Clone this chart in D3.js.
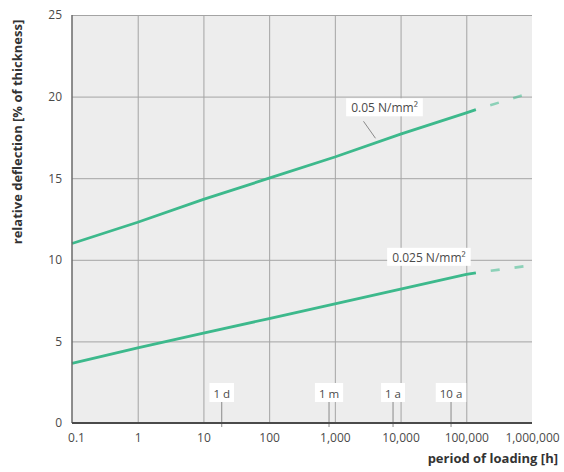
<!DOCTYPE html>
<html>
<head>
<meta charset="utf-8">
<script src="https://cdn.jsdelivr.net/npm/d3@7"></script>
<style>
  html, body { margin: 0; padding: 0; background: #ffffff; }
  svg { display: block; font-family: "Open Sans", "Noto Sans", sans-serif; }
</style>
</head>
<body>
<svg id="chart" width="564" height="472"></svg>
<script>
// ---- data ----
const xTicks = [0.1, 1, 10, 100, 1000, 10000, 100000, 1000000];
const xTickLabels = ["0.1", "1", "10", "100", "1,000", "10,000", "100,000", "1,000,000"];
const yTicks = [0, 5, 10, 15, 20, 25];
const hours = [0.1, 1, 10, 100, 1000, 10000, 100000, 140000];
const load005 = [11.0, 12.3, 13.7, 15.0, 16.3, 17.7, 19.0, 19.2];
const load0025 = [3.65, 4.6, 5.5, 6.4, 7.3, 8.2, 9.1, 9.2];
const extHours = [140000, 750000];
const ext005 = [19.2, 20.1];
const ext0025 = [9.2, 9.6];
const seriesLabels = ["0.05 N/mm²", "0.025 N/mm²"];
const durationLabels = ["1 d", "1 m", "1 a", "10 a"];
const durationHours = [19, 815, 7680, 58600];
const xTitle = "period of loading [h]";
const yTitle = "relative deflection [% of thickness]";

// ---- layout ----
const W = 564, H = 472;
const m = { left: 72, right: 32, top: 15, bottom: 49 };
const svg = d3.select("#chart");
const x = d3.scaleLog().domain([0.1, 1000000]).range([m.left, W - m.right]);
const y = d3.scaleLinear().domain([0, 25]).range([H - m.bottom, m.top]);
const green = "#3db98c";
const gridCol = "#a4a4a4";
const textCol = "#4a4a4a";

// plot background
svg.append("rect")
  .attr("x", x.range()[0]).attr("y", y.range()[1])
  .attr("width", x.range()[1] - x.range()[0])
  .attr("height", y.range()[0] - y.range()[1])
  .attr("fill", "#ededed");

// grid: vertical
const gx = svg.append("g")
  .attr("transform", `translate(0,${y.range()[0]})`)
  .call(d3.axisBottom(x).tickValues(xTicks.slice(1, -1))
    .tickSize(-(y.range()[0] - y.range()[1])).tickFormat(""));
gx.select(".domain").remove();
gx.selectAll("line").attr("stroke", gridCol).attr("stroke-width", 1);

// grid: horizontal
const gy = svg.append("g")
  .attr("transform", `translate(${x.range()[0]},0)`)
  .call(d3.axisLeft(y).tickValues(yTicks.slice(1))
    .tickSize(-(x.range()[1] - x.range()[0])).tickFormat(""));
gy.select(".domain").remove();
gy.selectAll("line").attr("stroke", gridCol).attr("stroke-width", 1);

// series lines
const line = d3.line().x(d => x(d[0])).y(d => y(d[1]));
const s1 = hours.map((h, i) => [h, load005[i]]);
const s2 = hours.map((h, i) => [h, load0025[i]]);
const e1 = extHours.map((h, i) => [h, ext005[i]]);
const e2 = extHours.map((h, i) => [h, ext0025[i]]);

[s1, s2].forEach(s => {
  svg.append("path").datum(s).attr("d", line)
    .attr("fill", "none").attr("stroke", green)
    .attr("stroke-width", 2.8).attr("stroke-linecap", "butt");
});
[e1, e2].forEach(s => {
  svg.append("path").datum(s).attr("d", line)
    .attr("fill", "none").attr("stroke", green).attr("stroke-opacity", 0.55)
    .attr("stroke-width", 2.6).attr("stroke-dasharray", "0 15 9 15 9 100");
});

// duration annotations along the bottom
const base = y.range()[0];
durationHours.forEach((h, i) => {
  const px = x(h);
  svg.append("line")
    .attr("x1", px).attr("x2", px).attr("y1", base - 21).attr("y2", base + 4)
    .attr("stroke", "#8a8a8a").attr("stroke-width", 1);
  const t = svg.append("text")
    .attr("x", px).attr("y", base - 25)
    .attr("text-anchor", "middle").attr("font-size", 11.5)
    .attr("fill", textCol).text(durationLabels[i]);
  const bb = t.node().getBBox();
  svg.insert("rect", () => t.node())
    .attr("x", bb.x - 4).attr("y", base - 40)
    .attr("width", bb.width + 8).attr("height", 19)
    .attr("fill", "#ffffff");
});

// axis lines
svg.append("line")
  .attr("x1", x.range()[0]).attr("x2", x.range()[0])
  .attr("y1", y.range()[1]).attr("y2", y.range()[0])
  .attr("stroke", "#6a6a6a").attr("stroke-width", 1.5);
svg.append("line")
  .attr("x1", x.range()[0]).attr("x2", x.range()[1])
  .attr("y1", y.range()[0]).attr("y2", y.range()[0])
  .attr("stroke", "#4a4a4a").attr("stroke-width", 2);

// x tick labels
const xl = svg.append("g")
  .attr("transform", `translate(0,${y.range()[0]})`)
  .call(d3.axisBottom(x).tickValues(xTicks).tickSize(0).tickPadding(10)
    .tickFormat((d, i) => xTickLabels[i]));
xl.select(".domain").remove();
xl.selectAll("text").attr("font-size", 12).attr("fill", textCol)
  .attr("font-family", "Open Sans, sans-serif");
xl.selectAll("text").filter((d, i) => i === 0).attr("dx", 4);

// y tick labels
const yl = svg.append("g")
  .attr("transform", `translate(${x.range()[0]},0)`)
  .call(d3.axisLeft(y).tickValues(yTicks).tickSize(0).tickPadding(10));
yl.select(".domain").remove();
yl.selectAll("text").attr("font-size", 12).attr("fill", textCol)
  .attr("font-family", "Open Sans, sans-serif");

// series labels
function seriesLabel(txt, anchorH, anchorV, dx, dy, leader) {
  const ax = x(anchorH), ay = y(anchorV);
  if (leader) {
    svg.append("line")
      .attr("x1", ax - 1).attr("y1", ay - 4)
      .attr("x2", ax - 13).attr("y2", ay - 21)
      .attr("stroke", "#8a8a8a").attr("stroke-width", 1);
  }
  const t = svg.append("text")
    .attr("x", ax + dx).attr("y", ay + dy)
    .attr("text-anchor", "middle").attr("font-size", 12)
    .attr("fill", textCol).text(txt);
  const bb = t.node().getBBox();
  svg.insert("rect", () => t.node())
    .attr("x", bb.x - 5).attr("y", ay + dy - 14)
    .attr("width", bb.width + 10).attr("height", 18)
    .attr("fill", "#ffffff");
}
seriesLabel(seriesLabels[0], 4300, 17.2, 8, -30, true);
seriesLabel(seriesLabels[1], 27000, 8.65, 0, -20, false);

// axis titles
svg.append("text")
  .attr("x", 558).attr("y", 463)
  .attr("text-anchor", "end").attr("font-size", 13).attr("font-weight", "bold")
  .attr("fill", "#333").text(xTitle);
svg.append("text")
  .attr("transform", "translate(22,132) rotate(-90)")
  .attr("text-anchor", "middle").attr("font-size", 13).attr("font-weight", "bold")
  .attr("fill", "#333").text(yTitle);
</script>
</body>
</html>
